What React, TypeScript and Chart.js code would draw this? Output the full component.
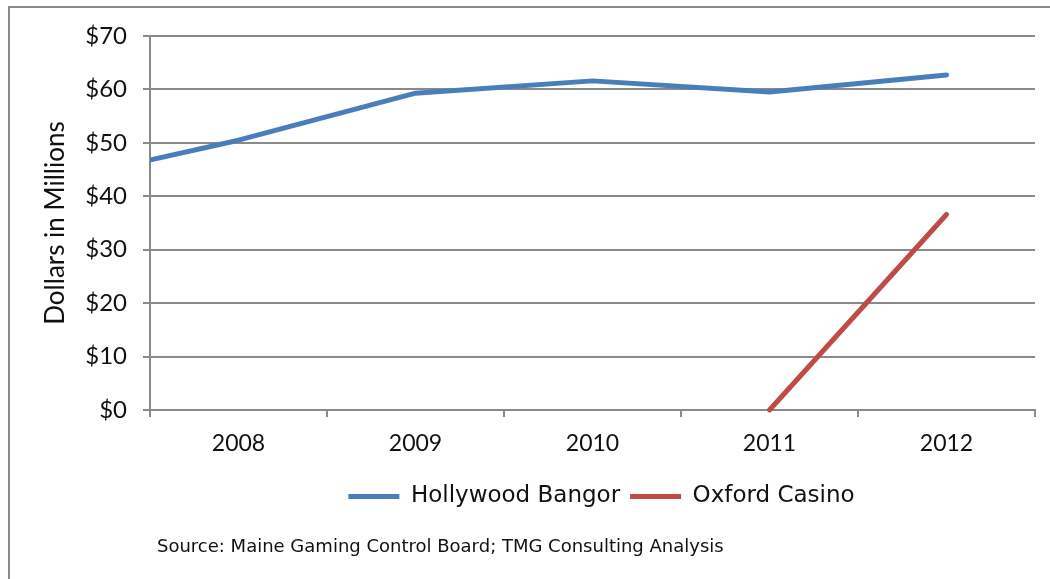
import React, { useEffect, useRef } from "react";
import { Chart, registerables } from "chart.js";

Chart.register(...registerables);

// ---- data ----
const yearTicks = [2008, 2009, 2010, 2011, 2012];
const bangorYears = [2007, 2008, 2009, 2010, 2011, 2012];
const bangorValues = [43.1, 50.5, 59.3, 61.6, 59.5, 62.7];
const oxfordYears = [2011, 2012];
const oxfordValues = [0, 36.6];
const seriesNames = ["Hollywood Bangor", "Oxford Casino"];
const seriesColors = ["#4A7EBB", "#BE4B48"];
const yMin = 0;
const yMax = 70;
const yStep = 10;
const yTitle = "Dollars in Millions";
const sourceText = "Source: Maine Gaming Control Board; TMG Consulting Analysis";

const GRID = "#8a8a8a";
const AXIS_FONT = "Lato";

export default function App() {
  const ref = useRef<HTMLCanvasElement | null>(null);

  useEffect(() => {
    if (!ref.current) return;

    const decor = {
      id: "decor",
      beforeDraw(chart: any) {
        const ctx = chart.ctx;
        ctx.save();
        ctx.strokeStyle = GRID;
        ctx.lineWidth = 2;
        ctx.beginPath();
        ctx.moveTo(9, 580);
        ctx.lineTo(9, 7);
        ctx.lineTo(1052, 7);
        ctx.stroke();
        ctx.restore();
      },
      afterDraw(chart: any) {
        const ctx = chart.ctx;
        ctx.save();
        ctx.fillStyle = "#111";
        ctx.font = "18px 'DejaVu Sans'";
        ctx.textBaseline = "middle";
        ctx.textAlign = "left";
        ctx.fillText(sourceText, 157, 547);
        ctx.restore();
      },
      afterLayout(chart: any) {
        const lg = chart.legend;
        if (lg) {
          lg.left += 9;
          lg.right += 9;
        }
      },
    };

    const chart = new Chart(ref.current, {
      type: "line",
      data: {
        datasets: [
          {
            label: seriesNames[0],
            data: bangorYears.map((x, i) => ({ x, y: bangorValues[i] })),
            borderColor: seriesColors[0],
            backgroundColor: seriesColors[0],
            borderWidth: 5,
            pointRadius: 0,
            pointStyle: "line",
            borderCapStyle: "round",
            borderJoinStyle: "round",
            clip: { left: 0, top: 10, right: 10, bottom: 10 } as any,
          },
          {
            label: seriesNames[1],
            data: oxfordYears.map((x, i) => ({ x, y: oxfordValues[i] })),
            borderColor: seriesColors[1],
            backgroundColor: seriesColors[1],
            borderWidth: 5,
            pointRadius: 0,
            pointStyle: "line",
            borderCapStyle: "round",
            borderJoinStyle: "round",
            clip: { left: 0, top: 10, right: 10, bottom: 10 } as any,
          },
        ],
      },
      options: {
        responsive: false,
        animation: false,
        events: [],
        layout: { padding: { top: 36, right: 15, left: 0, bottom: 61 } },
        scales: {
          x: {
            type: "linear",
            min: 2007.5,
            max: 2012.5,
            afterBuildTicks(scale: any) {
              const t: any[] = [{ value: 2007.5 }];
              yearTicks.forEach((y) => {
                t.push({ value: y });
                t.push({ value: y + 0.5 });
              });
              scale.ticks = t;
            },
            afterFit(scale: any) {
              scale.height = 65;
            },
            ticks: {
              autoSkip: false,
              maxRotation: 0,
              padding: 13,
              color: "#111",
              font: { family: AXIS_FONT, size: 23 },
              callback: (v: any) => (Number.isInteger(v) ? String(v) : ""),
            },
            grid: {
              drawOnChartArea: false,
              drawTicks: true,
              tickLength: 7,
              lineWidth: 2,
              tickColor: (ctx: any) =>
                Number.isInteger(ctx.tick?.value) ? "rgba(0,0,0,0)" : GRID,
            },
            border: { color: GRID, width: 2 },
          },
          y: {
            min: yMin,
            max: yMax,
            afterFit(scale: any) {
              scale.width = 150;
            },
            ticks: {
              stepSize: yStep,
              padding: 16,
              color: "#111",
              font: { family: AXIS_FONT, size: 24 },
              callback: (v: any) => "$" + v,
            },
            grid: {
              color: GRID,
              lineWidth: 2,
              tickLength: 7,
              drawTicks: true,
            },
            border: { color: GRID, width: 2 },
            title: {
              display: true,
              text: yTitle,
              color: "#111",
              font: { family: AXIS_FONT, size: 26 },
              padding: { top: 40, bottom: 0 },
            },
          },
        },
        plugins: {
          legend: {
            position: "bottom",
            fullSize: false,
            labels: {
              usePointStyle: true,
              pointStyle: "line",
              pointStyleWidth: 51,
              color: "#111",
              padding: 10,
              font: { family: "DejaVu Sans", size: 23 },
            },
          },
          tooltip: { enabled: false },
        },
      },
      plugins: [decor],
    });

    return () => chart.destroy();
  }, []);

  return (
    <div style={{ position: "absolute", left: 0, top: 0, width: 1050, height: 579, background: "#fff" }}>
      <canvas ref={ref} width={1050} height={579} style={{ width: 1050, height: 579 }} />
    </div>
  );
}
